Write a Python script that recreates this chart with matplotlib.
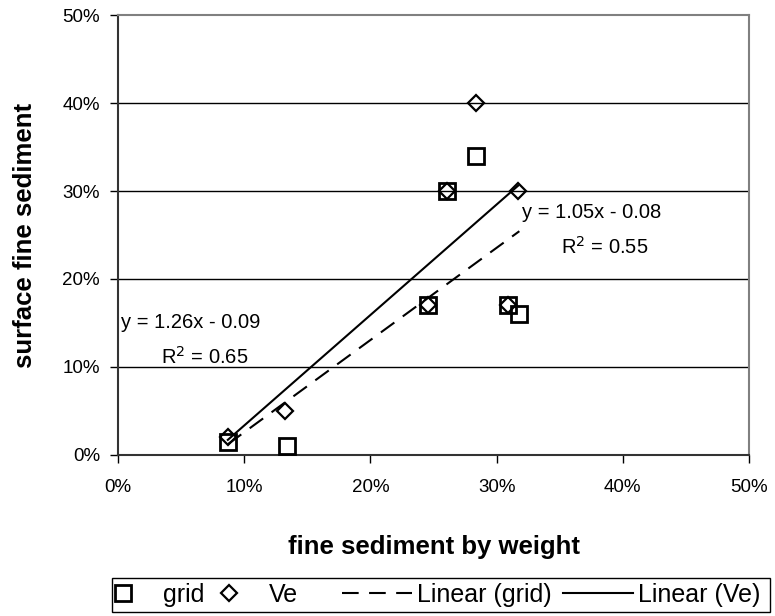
import numpy as np
import matplotlib
matplotlib.use('Agg')
from matplotlib import pyplot as plt
from matplotlib.patches import Rectangle
from matplotlib.ticker import PercentFormatter

plt.rcParams['font.family'] = ['Liberation Sans', 'DejaVu Sans']

# fine sediment by weight (%) vs surface fine sediment (%)
grid_x = [8.7, 13.4, 28.4, 26.1, 24.6, 30.9, 31.8]
grid_y = [1.5, 1.0, 34.0, 30.0, 17.0, 17.0, 16.0]
ve_x = [8.7, 13.2, 28.4, 26.1, 31.7, 24.6, 30.9]
ve_y = [2.0, 5.0, 40.0, 30.0, 30.0, 17.0, 17.0]

ticks = [0, 10, 20, 30, 40, 50]
grid_eq = ['y = 1.05x - 0.08', 'R$^2$ = 0.55']
ve_eq = ['y = 1.26x - 0.09', 'R$^2$ = 0.65']


def trend(x, y):
    x = np.asarray(x)
    k, b = np.polyfit(x, y, 1)
    xs = np.array([x.min(), x.max()])
    return xs, k * xs + b


fig = plt.figure(figsize=(7.75, 6.16), dpi=100)
ax = fig.add_axes([0.1523, 0.2614, 0.8142, 0.7142])

for yv in ticks[1:-1]:
    ax.axhline(yv, color='black', lw=1, zorder=1)

pts_grid, = ax.plot(grid_x, grid_y, ls='none', marker='s', ms=12, mfc='none',
                    mec='black', mew=2, label='grid', zorder=3)
pts_ve, = ax.plot(ve_x, ve_y, ls='none', marker='D', ms=8, mfc='none',
                  mec='black', mew=1.6, label='Ve', zorder=4)

tx, ty = trend(grid_x, grid_y)
ln_grid, = ax.plot(tx, ty, color='black', lw=1.5, dashes=(8, 5),
                   label='Linear (grid)', zorder=2)
tx, ty = trend(ve_x, ve_y)
ln_ve, = ax.plot(tx, ty, color='black', lw=1.5, label='Linear (Ve)', zorder=2)

ax.text(0.2, 15.0, ve_eq[0], fontsize=14.5, ha='left', va='center')
ax.text(6.9, 11.1, ve_eq[1], fontsize=14.5, ha='center', va='center')
ax.text(32.0, 27.6, grid_eq[0], fontsize=14.5, ha='left', va='center')
ax.text(38.6, 23.6, grid_eq[1], fontsize=14.5, ha='center', va='center')

ax.set_xlim(0, 50)
ax.set_ylim(0, 50)
ax.set_xticks(ticks)
ax.set_yticks(ticks)
ax.xaxis.set_major_formatter(PercentFormatter(decimals=0))
ax.yaxis.set_major_formatter(PercentFormatter(decimals=0))
ax.tick_params(labelsize=13.5, length=6, width=1, direction='out')
ax.tick_params(axis='x', pad=11)
ax.tick_params(axis='y', pad=7)

for s in ['top', 'right']:
    ax.spines[s].set_color('#808080')
    ax.spines[s].set_linewidth(1.5)
for s in ['left', 'bottom']:
    ax.spines[s].set_color('#333333')
    ax.spines[s].set_linewidth(1.5)

ax.set_xlabel('fine sediment by weight', fontsize=18.5, fontweight='bold', va='top')
ax.xaxis.set_label_coords(0.5, -0.183)
ax.set_ylabel('surface fine sediment', fontsize=18.5, fontweight='bold')
ax.yaxis.set_label_coords(-0.128, 0.5)

# legend: marker entries and trendline entries, one shared frame
leg1 = fig.legend(handles=[pts_grid, pts_ve], loc='center left',
                  bbox_to_anchor=(0.139, 0.0349), ncol=2, fontsize=18,
                  handlelength=1.2, handletextpad=1.0, columnspacing=0.4,
                  frameon=False, borderaxespad=0, borderpad=0)
leg2 = fig.legend(handles=[ln_grid, ln_ve], loc='center left',
                  bbox_to_anchor=(0.441, 0.0349), ncol=2, fontsize=18,
                  handlelength=2.8, handletextpad=0.2, columnspacing=0.45,
                  frameon=False, borderaxespad=0, borderpad=0)
fig.patches.append(Rectangle((0.1445, 0.0065), 0.849, 0.055, transform=fig.transFigure,
                             fill=False, ec='black', lw=1))

fig.savefig('out.png', dpi=100)
